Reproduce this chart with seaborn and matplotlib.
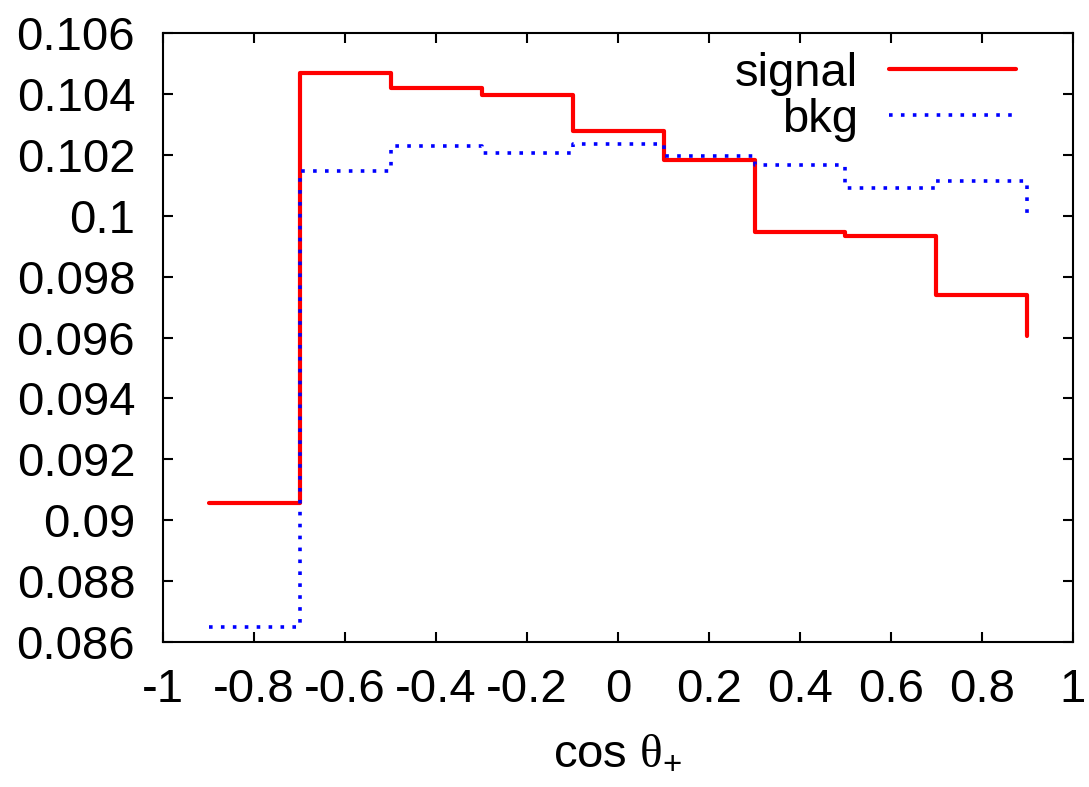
import numpy as np
import pandas as pd
import seaborn as sns
import matplotlib
matplotlib.use("Agg")
import matplotlib.pyplot as plt

# Bin lower edges in cos(theta_+) and normalised distributions
cos_theta = [-0.9, -0.7, -0.5, -0.3, -0.1, 0.1, 0.3, 0.5, 0.7, 0.9]
signal = [0.09055, 0.10468, 0.10418, 0.10395, 0.10277, 0.10184, 0.09947, 0.09933, 0.09739, 0.09605]
bkg = [0.0865, 0.10148, 0.1023, 0.10207, 0.10234, 0.10197, 0.10168, 0.10092, 0.10115, 0.09996]

x_ticks = [-1, -0.8, -0.6, -0.4, -0.2, 0, 0.2, 0.4, 0.6, 0.8, 1]
x_tick_labels = ["-1", "-0.8", "-0.6", "-0.4", "-0.2", "0", "0.2", "0.4", "0.6", "0.8", "1"]
y_ticks = [0.086, 0.088, 0.090, 0.092, 0.094, 0.096, 0.098, 0.100, 0.102, 0.104, 0.106]
y_tick_labels = ["0.086", "0.088", "0.09", "0.092", "0.094", "0.096", "0.098", "0.1", "0.102", "0.104", "0.106"]

sns.set_theme(style="ticks")
plt.rcParams["font.family"] = ["Liberation Sans", "DejaVu Sans"]
plt.rcParams["mathtext.fontset"] = "custom"
plt.rcParams["mathtext.rm"] = "Liberation Serif"
plt.rcParams["mathtext.sf"] = "Liberation Sans"
plt.rcParams["axes.unicode_minus"] = False
plt.rcParams["text.color"] = "black"
plt.rcParams["axes.labelcolor"] = "black"

df = pd.DataFrame({"cos": cos_theta, "signal": signal, "bkg": bkg})

fig = plt.figure(figsize=(10.89, 7.87), dpi=100)
ax = fig.add_axes([0.1497, 0.1843, 0.8356, 0.7737])

sns.lineplot(data=df, x="cos", y="signal", ax=ax, drawstyle="steps-post",
             color="#ff0000", linewidth=3.0, label="signal")
sns.lineplot(data=df, x="cos", y="bkg", ax=ax, drawstyle="steps-post",
             color="#0000ff", linewidth=2.6, linestyle=(0, (1.0, 2.3)),
             label="bkg")

ax.set_xlim(-1, 1)
ax.set_ylim(0.086, 0.106)
ax.set_xticks(x_ticks)
ax.set_xticklabels(x_tick_labels)
ax.set_yticks(y_ticks)
ax.set_yticklabels(y_tick_labels)

fs = 34
ax.tick_params(axis="both", which="major", direction="in", length=7, width=1.5,
               labelsize=fs, top=True, right=True, color="black", labelcolor="black")
ax.tick_params(axis="x", pad=19)
ax.tick_params(axis="y", pad=20)
for sp in ax.spines.values():
    sp.set_visible(True)
    sp.set_linewidth(1.5)
    sp.set_color("black")

ax.set_xlabel(r"cos $\mathrm{\theta}_{\mathsf{+}}$", fontsize=fs, labelpad=13,
              color="black")
ax.set_ylabel("")

leg = ax.legend(loc="upper right", bbox_to_anchor=(0.969, 1.016), frameon=False,
                markerfirst=False, handlelength=2.7, handletextpad=0.65,
                fontsize=fs, labelspacing=0.05, borderaxespad=0.2)
for t in leg.get_texts():
    t.set_ha("right")
    t.set_color("black")

fig.savefig("out.png", dpi=100)
